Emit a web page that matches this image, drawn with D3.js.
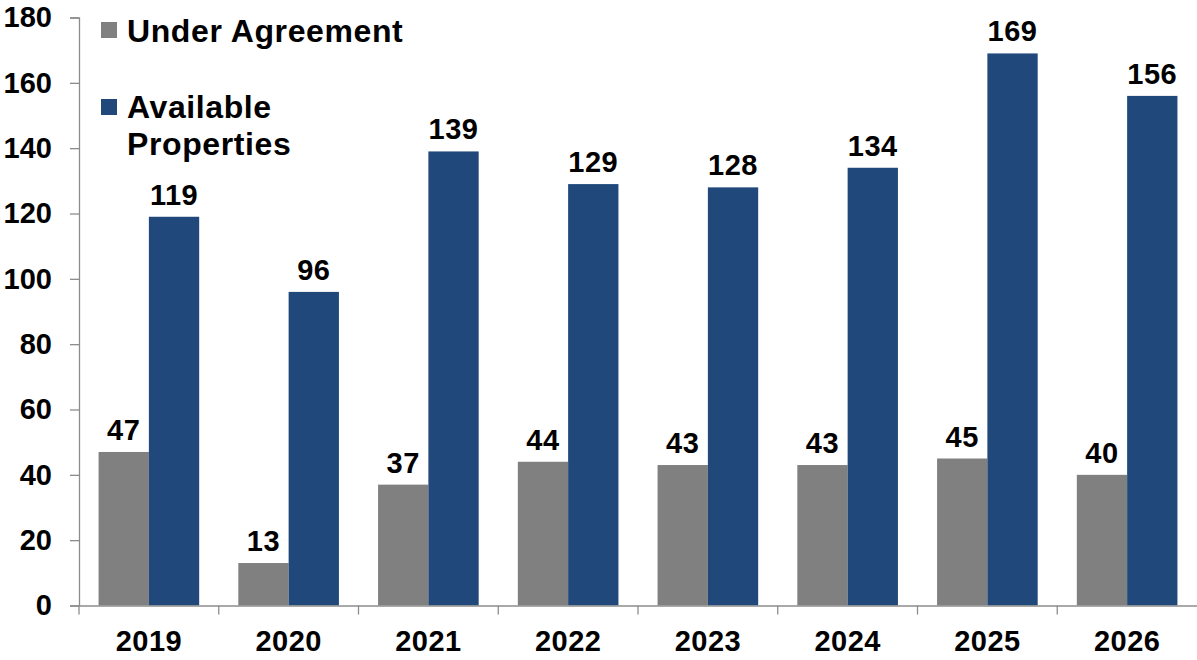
<!DOCTYPE html>
<html>
<head>
<meta charset="utf-8">
<script src="https://cdn.jsdelivr.net/npm/d3@7"></script>
<style>
  body { margin: 0; background: #fff; }
  text { font-family: "Liberation Sans", Arial, sans-serif; font-weight: bold; fill: #000; }
</style>
</head>
<body>
<div id="chart"></div>
<script>
const years = ['2019', '2020', '2021', '2022', '2023', '2024', '2025', '2026']
const underAgreement = [47, 13, 37, 44, 43, 43, 45, 40]
const available = [119, 96, 139, 129, 128, 134, 169, 156]
const yTicks = [0, 20, 40, 60, 80, 100, 120, 140, 160, 180]

const seriesNames = ['Under Agreement', 'Available Properties']
const colors = ['#808080', '#20487B']

const W = 1197, H = 660
const plotLeft = 79, plotRight = 1197, plotTop = 17.5, plotBottom = 605.5

const svg = d3.select('#chart').append('svg')
  .attr('width', W)
  .attr('height', H)

// scales
const x = d3.scaleBand()
  .domain(years)
  .range([plotLeft, plotRight])
  .paddingInner(0)
  .paddingOuter(0)

const x1 = d3.scaleBand()
  .domain([0, 1])
  .range([x.bandwidth() * 0.14, x.bandwidth() * 0.86])

const y = d3.scaleLinear()
  .domain([0, 180])
  .range([plotBottom, plotTop])

// bars
const rows = years.map((yr, i) => ({ year: yr, vals: [underAgreement[i], available[i]] }))

const groups = svg.selectAll('.grp')
  .data(rows)
  .enter()
  .append('g')
  .attr('class', 'grp')
  .attr('transform', d => 'translate(' + x(d.year) + ',0)')

groups.selectAll('rect')
  .data(d => d.vals.map((v, k) => ({ k: k, v: v })))
  .enter()
  .append('rect')
  .attr('x', d => x1(d.k))
  .attr('width', x1.bandwidth())
  .attr('y', d => y(d.v))
  .attr('height', d => y(0) - y(d.v))
  .attr('fill', d => colors[d.k])

groups.selectAll('.lbl')
  .data(d => d.vals.map((v, k) => ({ k: k, v: v })))
  .enter()
  .append('text')
  .attr('class', 'lbl')
  .attr('x', d => x1(d.k) + x1.bandwidth() / 2)
  .attr('y', d => y(d.v) - 12)
  .attr('text-anchor', 'middle')
  .attr('font-size', 29)
  .attr('letter-spacing', 0.5)
  .text(d => d.v)

// y axis
const yAxis = d3.axisLeft(y)
  .tickValues(yTicks)
  .tickSize(9)
  .tickPadding(18)

const gy = svg.append('g')
  .attr('transform', 'translate(' + plotLeft + ',0)')
  .call(yAxis)
gy.select('.domain').attr('stroke', '#8c8c8c').attr('stroke-width', 1.3)
gy.selectAll('.tick line').attr('stroke', '#8c8c8c').attr('stroke-width', 1.3)
gy.selectAll('.tick text')
  .attr('font-size', 29)
  .attr('fill', '#000')
gy.attr('font-family', null).attr('font-size', null)

// x axis
const xAxis = d3.axisBottom(x).tickSize(0).tickPadding(0)
const gx = svg.append('g')
  .attr('transform', 'translate(0,' + plotBottom + ')')
  .call(xAxis)
gx.attr('font-family', null).attr('font-size', null)
gx.select('.domain').attr('stroke', '#8c8c8c').attr('stroke-width', 1.3)
gx.selectAll('.tick text')
  .attr('font-size', 29)
  .attr('fill', '#000')
  .attr('letter-spacing', 0.5)
  .attr('dy', null)
  .attr('y', 45)

// category separator ticks
gx.selectAll('.sep')
  .data(years)
  .enter()
  .append('line')
  .attr('class', 'sep')
  .attr('x1', d => x(d)).attr('x2', d => x(d))
  .attr('y1', 0).attr('y2', 9)
  .attr('stroke', '#8c8c8c')
  .attr('stroke-width', 1.3)

// legend
const legend = svg.append('g')
legend.append('rect').attr('x', 101).attr('y', 22).attr('width', 16).attr('height', 16).attr('fill', colors[0])
legend.append('text').attr('x', 127).attr('y', 42).attr('font-size', 32).attr('letter-spacing', 0.6).text(seriesNames[0])
legend.append('rect').attr('x', 101).attr('y', 99).attr('width', 16).attr('height', 16).attr('fill', colors[1])
legend.append('text').attr('x', 127).attr('y', 118).attr('font-size', 32).attr('letter-spacing', 0.6).text('Available')
legend.append('text').attr('x', 127).attr('y', 155).attr('font-size', 32).attr('letter-spacing', 0.6).text('Properties')
</script>
</body>
</html>
